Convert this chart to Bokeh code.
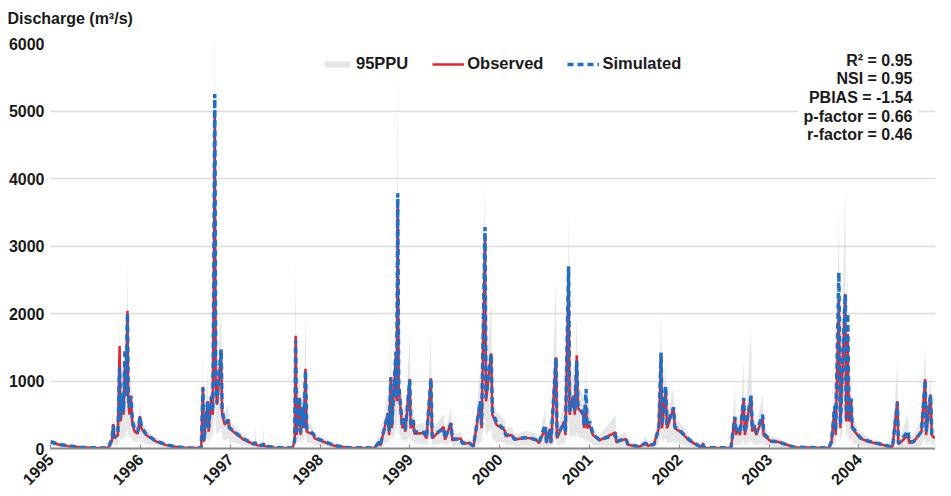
import pandas as pd
from math import pi
from bokeh.plotting import figure
from bokeh.models import (ColumnDataSource, Range1d, FixedTicker, DatetimeTickFormatter,
                          Legend, LegendItem, Label, Title)
from bokeh.embed import file_html
from bokeh.resources import INLINE

# ---------------- data ----------------
dates = [
    "1995-01-01", "1995-02-01", "1995-03-15", "1995-05-01", "1995-06-15", "1995-08-20", "1995-08-30", "1995-09-08", "1995-09-13", "1995-09-18",
    "1995-10-02", "1995-10-09", "1995-10-13", "1995-10-20", "1995-10-25", "1995-10-31", "1995-11-04", "1995-11-10", "1995-11-13", "1995-11-18",
    "1995-11-24", "1995-11-30", "1995-12-10", "1995-12-22", "1995-12-31", "1996-01-05", "1996-01-25", "1996-03-01", "1996-04-15", "1996-06-01",
    "1996-07-15", "1996-09-05", "1996-09-12", "1996-09-16", "1996-10-01", "1996-10-05", "1996-10-16", "1996-10-22", "1996-10-26", "1996-10-30",
    "1996-11-03", "1996-11-08", "1996-11-25", "1996-11-29", "1996-12-10", "1996-12-24", "1996-12-28", "1997-01-20", "1997-02-25", "1997-04-08",
    "1997-04-12", "1997-04-16", "1997-05-12", "1997-05-16", "1997-05-20", "1997-07-01", "1997-09-10", "1997-09-20", "1997-09-24", "1997-09-28",
    "1997-10-10", "1997-10-14", "1997-10-22", "1997-10-27", "1997-11-03", "1997-11-08", "1997-12-06", "1997-12-10", "1998-01-15", "1998-03-01",
    "1998-04-25", "1998-08-10", "1998-08-29", "1998-09-03", "1998-10-05", "1998-10-09", "1998-10-16", "1998-10-20", "1998-11-06", "1998-11-09",
    "1998-11-13", "1998-11-17", "1998-12-02", "1998-12-09", "1998-12-14", "1999-01-01", "1999-01-05", "1999-01-15", "1999-01-20", "1999-02-28",
    "1999-03-10", "1999-03-28", "1999-04-02", "1999-05-19", "1999-05-24", "1999-06-18", "1999-06-23", "1999-07-28", "1999-08-03", "1999-09-01",
    "1999-09-17", "1999-10-15", "1999-10-20", "1999-11-03", "1999-11-07", "1999-11-28", "1999-12-03", "1999-12-20", "2000-01-22", "2000-01-26",
    "2000-02-20", "2000-03-01", "2000-04-12", "2000-05-08", "2000-05-28", "2000-06-10", "2000-07-05", "2000-07-10", "2000-07-23", "2000-07-28",
    "2000-08-18", "2000-08-22", "2000-09-20", "2000-09-25", "2000-10-08", "2000-10-12", "2000-10-27", "2000-11-02", "2000-11-10", "2000-11-15",
    "2000-12-06", "2000-12-10", "2000-12-18", "2000-12-22", "2001-01-01", "2001-01-15", "2001-02-10", "2001-04-17", "2001-04-20", "2001-05-12",
    "2001-05-30", "2001-06-05", "2001-07-20", "2001-08-18", "2001-08-25", "2001-09-20", "2001-10-10", "2001-10-19", "2001-10-23", "2001-11-07",
    "2001-11-12", "2001-12-09", "2001-12-14", "2002-01-05", "2002-02-10", "2002-04-01", "2002-04-08", "2002-04-12", "2002-07-30", "2002-08-15",
    "2002-08-20", "2002-08-26", "2002-09-05", "2002-09-20", "2002-09-25", "2002-10-20", "2002-10-25", "2002-11-01", "2002-11-10", "2002-12-06",
    "2002-12-10", "2003-01-10", "2003-02-06", "2003-04-12", "2003-09-01", "2003-09-12", "2003-09-25", "2003-09-29", "2003-10-12", "2003-10-18",
    "2003-11-07", "2003-11-11", "2003-11-17", "2003-11-22", "2003-12-01", "2003-12-05", "2004-01-07", "2004-02-10", "2004-05-17", "2004-06-06",
    "2004-06-10", "2004-07-20", "2004-07-24", "2004-08-11", "2004-09-12", "2004-09-27", "2004-10-01", "2004-10-19", "2004-10-24", "2004-11-05",
]

observed = [
    95, 60, 35, 18, 10, 8, 40, 120, 360, 150,
    200, 1520, 400, 700, 500, 1300, 800, 2040, 750, 500,
    780, 350, 250, 220, 480, 300, 200, 110, 50, 20,
    8, 8, 910, 100, 700, 250, 780, 500, 2500, 4950,
    1000, 650, 1450, 500, 350, 430, 300, 230, 130, 60,
    95, 50, 40, 80, 35, 12, 8, 100, 1670, 200,
    750, 200, 600, 300, 1180, 250, 200, 150, 100, 40,
    10, 8, 100, 40, 525, 200, 1060, 300, 1400, 700,
    3620, 900, 300, 450, 250, 1030, 300, 400, 220, 230,
    150, 1040, 150, 320, 130, 380, 120, 150, 70, 80,
    30, 690, 300, 3130, 700, 1410, 500, 350, 270, 180,
    200, 130, 160, 150, 130, 80, 300, 80, 290, 80,
    1350, 150, 400, 200, 2690, 500, 780, 500, 1380, 600,
    500, 300, 650, 300, 350, 200, 120, 240, 90, 120,
    140, 60, 20, 80, 40, 60, 300, 1410, 300, 900,
    300, 600, 300, 250, 120, 10, 80, 10, 8, 460,
    200, 300, 200, 720, 200, 780, 250, 350, 200, 460,
    200, 100, 100, 20, 8, 100, 620, 200, 2210, 300,
    2290, 400, 1700, 400, 730, 300, 150, 100, 20, 700,
    60, 200, 80, 100, 250, 1030, 200, 800, 200, 150,
]

simulated = [
    100, 65, 38, 20, 10, 8, 60, 150, 340, 160,
    230, 1200, 450, 800, 550, 1470, 780, 2000, 800, 600,
    780, 400, 280, 250, 470, 320, 210, 120, 55, 22,
    10, 8, 900, 120, 690, 300, 760, 550, 2510, 5250,
    1100, 680, 1470, 550, 380, 420, 310, 240, 140, 65,
    90, 55, 45, 70, 40, 15, 8, 120, 1600, 250,
    760, 230, 620, 320, 1150, 300, 210, 160, 110, 45,
    12, 8, 90, 50, 520, 250, 1050, 350, 1430, 750,
    3780, 950, 320, 470, 280, 1010, 350, 420, 250, 240,
    160, 1030, 180, 300, 150, 370, 140, 140, 80, 80,
    35, 700, 350, 3280, 750, 1400, 550, 380, 280, 200,
    200, 140, 160, 150, 130, 90, 350, 90, 280, 90,
    1340, 180, 390, 250, 2700, 550, 760, 550, 1300, 650,
    520, 350, 880, 330, 400, 210, 130, 200, 100, 130,
    140, 70, 25, 80, 50, 60, 300, 1420, 350, 920,
    350, 610, 320, 260, 130, 15, 60, 12, 8, 470,
    250, 300, 220, 750, 230, 780, 280, 340, 230, 500,
    220, 110, 100, 20, 8, 100, 630, 250, 2610, 350,
    2280, 450, 2000, 450, 740, 320, 160, 110, 20, 680,
    80, 260, 100, 100, 250, 1015, 250, 790, 220, 180,
]

ppu_lower = [
    40, 25, 12, 5, 2, 2, 10, 30, 60, 40,
    50, 200, 100, 150, 150, 200, 200, 300, 200, 150,
    200, 120, 100, 90, 150, 100, 70, 40, 15, 5,
    2, 2, 100, 30, 150, 80, 200, 150, 400, 800,
    300, 200, 300, 150, 120, 150, 100, 80, 50, 20,
    20, 15, 10, 15, 10, 3, 2, 20, 250, 60,
    150, 60, 150, 90, 250, 80, 70, 50, 35, 10,
    2, 2, 20, 10, 100, 60, 200, 100, 300, 200,
    600, 250, 100, 150, 80, 200, 100, 120, 70, 70,
    50, 200, 50, 80, 40, 100, 35, 30, 15, 15,
    5, 100, 80, 500, 200, 300, 150, 100, 80, 50,
    50, 40, 40, 35, 30, 20, 50, 20, 50, 20,
    150, 40, 80, 60, 400, 150, 200, 150, 250, 180,
    150, 100, 150, 100, 100, 60, 35, 30, 20, 25,
    25, 10, 5, 10, 8, 10, 60, 250, 80, 150,
    80, 100, 80, 70, 30, 3, 5, 2, 2, 80,
    50, 60, 50, 120, 50, 120, 60, 80, 50, 80,
    50, 25, 20, 3, 2, 10, 80, 40, 500, 80,
    500, 100, 300, 100, 150, 80, 40, 25, 3, 100,
    10, 30, 15, 15, 40, 150, 50, 120, 50, 40,
]

ppu_upper = [
    140, 95, 55, 30, 18, 15, 110, 250, 650, 260,
    380, 1900, 650, 1200, 850, 2000, 1250, 2750, 1200, 900,
    1100, 600, 420, 380, 700, 450, 300, 170, 80, 35,
    15, 15, 1500, 200, 1150, 420, 1300, 800, 4000, 6500,
    1800, 1000, 2100, 800, 550, 650, 450, 330, 200, 95,
    380, 80, 70, 300, 60, 25, 15, 250, 2850, 400,
    1200, 350, 1000, 500, 2100, 420, 300, 230, 160, 70,
    20, 15, 220, 80, 900, 400, 1750, 500, 2200, 1100,
    5800, 1500, 480, 750, 400, 1700, 500, 650, 350, 380,
    230, 1700, 260, 520, 210, 620, 200, 250, 120, 140,
    60, 1200, 500, 4000, 1100, 2200, 800, 550, 420, 280,
    320, 200, 260, 250, 220, 130, 600, 130, 500, 130,
    2560, 260, 700, 350, 3500, 800, 1250, 800, 2000, 950,
    800, 480, 1300, 480, 600, 320, 190, 500, 140, 220,
    240, 100, 40, 180, 80, 150, 500, 2110, 500, 1300,
    500, 900, 450, 380, 190, 25, 200, 20, 15, 900,
    380, 500, 350, 1300, 350, 1740, 400, 550, 350, 800,
    330, 170, 160, 35, 15, 200, 1100, 380, 3600, 550,
    3900, 700, 2800, 700, 1100, 480, 240, 160, 35, 1300,
    120, 500, 140, 200, 450, 1520, 380, 1100, 330, 260,
]

years = [1995, 1996, 1997, 1998, 1999, 2000, 2001, 2002, 2003, 2004]
y_ticks = [0, 1000, 2000, 3000, 4000, 5000, 6000]
series_names = ["95PPU", "Observed", "Simulated"]
stats_labels = ["R\u00b2 = 0.95", "NSI = 0.95", "PBIAS = -1.54", "p-factor = 0.66", "r-factor = 0.46"]
y_title = "Discharge (m\u00b3/s)"
x_start, x_end = "1995-01-01", "2004-11-08"
y_start, y_end = 0, 6000

assert len(dates) == len(observed) == len(simulated) == len(ppu_lower) == len(ppu_upper)

# ---------------- figure ----------------
FONT = "Liberation Sans"
W, H = 935, 494
B_LEFT, B_TOP, B_BOTTOM = 50, 43, 46
FRAME_H = H - B_TOP - B_BOTTOM

p = figure(width=W, height=H, x_axis_type="datetime", output_backend="svg",
           toolbar_location=None, title=None,
           x_range=Range1d(pd.Timestamp(x_start), pd.Timestamp(x_end)),
           y_range=Range1d(y_start, y_end),
           min_border_left=B_LEFT, min_border_right=0,
           min_border_top=B_TOP, min_border_bottom=B_BOTTOM)
p.outline_line_color = None
p.background_fill_color = "white"
p.border_fill_color = "white"

src = ColumnDataSource(dict(date=pd.to_datetime(dates), obs=observed, sim=simulated,
                            lo=ppu_lower, hi=ppu_upper))

band = p.varea(x="date", y1="lo", y2="hi", source=src, fill_color="#d6d6d6", fill_alpha=0.6)
obs_r = p.line("date", "obs", source=src, line_color="#e8232b", line_width=2.5)
sim_r = p.line("date", "sim", source=src, line_color="#1f6fc6", line_width=3.5,
               line_dash="6 4")

# axes
p.xaxis.ticker = FixedTicker(ticks=[pd.Timestamp(f"{y}-01-01").value / 1e6 for y in years])
p.xaxis.formatter = DatetimeTickFormatter(years="%Y", months="%Y", days="%Y", hours="%Y",
                                          hourmin="%Y", minutes="%Y", minsec="%Y",
                                          seconds="%Y", milliseconds="%Y", microseconds="%Y")
p.xaxis.major_label_orientation = pi / 4
p.xaxis.axis_line_color = "#8a8a8a"
p.xaxis.axis_line_width = 2
p.xaxis.major_tick_line_color = "#8a8a8a"
p.xaxis.major_tick_in = 4
p.xaxis.major_tick_out = 0
p.xaxis.minor_tick_line_color = None
p.xaxis.major_label_text_font = FONT
p.xaxis.major_label_text_font_style = "bold"
p.xaxis.major_label_text_font_size = "16px"
p.xaxis.major_label_text_color = "#1a1a1a"
p.xaxis.major_label_standoff = 8

p.yaxis.ticker = FixedTicker(ticks=y_ticks)
p.yaxis.axis_line_color = None
p.yaxis.major_tick_line_color = None
p.yaxis.minor_tick_line_color = None
p.yaxis.major_label_text_font = FONT
p.yaxis.major_label_text_font_style = "bold"
p.yaxis.major_label_text_font_size = "16px"
p.yaxis.major_label_text_color = "#1a1a1a"
p.yaxis.major_label_standoff = 0

p.xgrid.grid_line_color = None
p.ygrid.grid_line_color = "#dcdcdc"
p.ygrid.grid_line_width = 1.5

# axis title at top-left: a thin spacer title next to the frame, the real one above it
spacer = Title(text=" ", text_font_size="2px", standoff=8)
p.add_layout(spacer, "above")
ytitle = Title(text=y_title, align="left", vertical_align="top", offset=-43, standoff=6,
               text_font=FONT, text_font_style="bold", text_font_size="16px",
               text_color="#1a1a1a")
p.add_layout(ytitle, "above")

# legend
legend = Legend(items=[LegendItem(label=series_names[0], renderers=[band]),
                       LegendItem(label=series_names[1], renderers=[obs_r]),
                       LegendItem(label=series_names[2], renderers=[sim_r])],
                orientation="horizontal", location=(271, FRAME_H - 30))
legend.label_text_font = FONT
legend.label_text_font_style = "bold"
legend.label_text_font_size = "16.5px"
legend.label_text_color = "#1a1a1a"
legend.glyph_width = 32
legend.glyph_height = 8
legend.label_standoff = 3
legend.spacing = 24
legend.padding = 0
legend.margin = 0
legend.border_line_color = None
legend.background_fill_alpha = 1
p.add_layout(legend)

# statistics box
stats = Label(x=868, y=FRAME_H - 2, x_units="screen", y_units="screen",
              text="\n".join(stats_labels), text_align="right", text_baseline="top",
              text_font=FONT, text_font_style="bold", text_font_size="16px",
              text_color="#1a1a1a", text_line_height=1.1,
              background_fill_color="white", padding=6)
p.add_layout(stats)

open("out.html", "w").write(file_html(p, INLINE))
